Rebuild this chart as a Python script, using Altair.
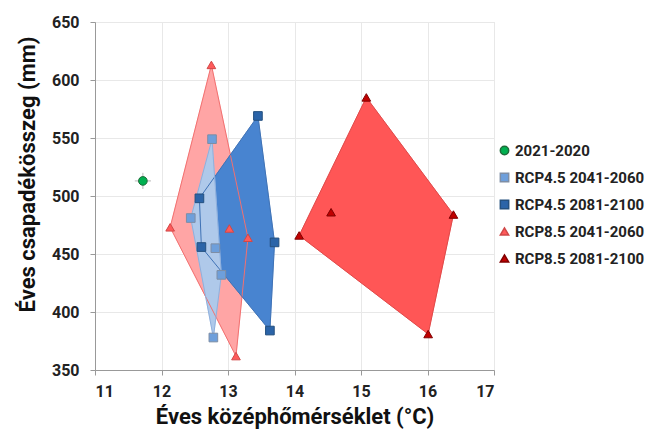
import altair as alt
import pandas as pd

# ---- data ----
series_names = ["2021-2020", "RCP4.5 2041-2060", "RCP4.5 2081-2100",
                "RCP8.5 2041-2060", "RCP8.5 2081-2100"]

base_x = [11.72]
base_y = [513]

r45a_x = [12.76, 12.44, 12.81, 12.90, 12.78]
r45a_y = [549, 481, 455, 432, 378]

r45b_x = [13.45, 12.57, 12.60, 13.70, 13.63]
r45b_y = [569, 498, 456, 460, 384]

r85a_x = [12.75, 12.13, 13.02, 13.30, 13.12]
r85a_y = [613, 473, 472, 464, 362]

r85b_x = [15.08, 14.55, 16.39, 14.07, 16.01]
r85b_y = [585, 486, 484, 466, 381]

# polygon outlines (indices into each series' points, closed)
poly_r85a = [0, 3, 4, 1, 0]
poly_r45b = [0, 3, 4, 2, 1, 0]
poly_r45a = [0, 3, 4, 1, 0]
poly_r85b = [0, 2, 4, 3, 0]

fill_colors = {"RCP8.5 2041-2060": "#FFA5A5", "RCP4.5 2081-2100": "#4884D0",
               "RCP4.5 2041-2060": "#AFC9EA", "RCP8.5 2081-2100": "#FF5656"}
edge_colors = {"RCP8.5 2041-2060": "#F27070", "RCP4.5 2081-2100": "#3F72B5",
               "RCP4.5 2041-2060": "#8FB0DD", "RCP8.5 2081-2100": "#E04848"}
marker_fill = ["#00B050", "#6E9FDB", "#2B64A8", "#FF5A5A", "#C00000"]
marker_shape = ["circle", "square", "square", "triangle-up", "triangle-up"]
marker_stroke = ["#1F6B3A", "#7E8EA5", "#24507F", "#D04848", "#800000"]

# ---- build tables ----
pts = []
for name, xs, ys in [(series_names[0], base_x, base_y),
                     (series_names[1], r45a_x, r45a_y),
                     (series_names[2], r45b_x, r45b_y),
                     (series_names[3], r85a_x, r85a_y),
                     (series_names[4], r85b_x, r85b_y)]:
    for x, y in zip(xs, ys):
        pts.append({"series": name, "t": x, "p": y})
pts = pd.DataFrame(pts)

def poly_df(name, xs, ys, idx):
    return pd.DataFrame({"series": name, "t": [xs[i] for i in idx],
                         "p": [ys[i] for i in idx], "o": list(range(len(idx)))})

polys = [
    ("RCP8.5 2041-2060", poly_df("RCP8.5 2041-2060", r85a_x, r85a_y, poly_r85a)),
    ("RCP4.5 2081-2100", poly_df("RCP4.5 2081-2100", r45b_x, r45b_y, poly_r45b)),
    ("RCP4.5 2041-2060", poly_df("RCP4.5 2041-2060", r45a_x, r45a_y, poly_r45a)),
    ("RCP8.5 2081-2100", poly_df("RCP8.5 2081-2100", r85b_x, r85b_y, poly_r85b)),
]

FONT = "Roboto"
xscale = alt.Scale(domain=[11, 17], nice=False)
yscale = alt.Scale(domain=[350, 650], nice=False)

xenc = alt.X("t:Q", scale=xscale, axis=alt.Axis(
    values=[11, 12, 13, 14, 15, 16, 17], format="d", title="Éves középhőmérséklet (°C)",
    titleFontSize=22, titleFontWeight="bold", titleColor="#111",
    labelFontSize=16, labelFontWeight="bold", labelColor="#222",
    labelPadding=8, titlePadding=7, tickSize=5, tickColor="#999",
    domainColor="#999", gridColor="#E8E8E8", labelFont=FONT, titleFont=FONT))
yenc = alt.Y("p:Q", scale=yscale, axis=alt.Axis(
    values=[350, 400, 450, 500, 550, 600, 650], title="Éves csapadékösszeg (mm)",
    titleFontSize=22, titleFontWeight="bold", titleColor="#111",
    labelFontSize=16, labelFontWeight="bold", labelColor="#222",
    labelPadding=11, titlePadding=12, tickSize=5, tickColor="#999",
    domainColor="#999", gridColor="#E8E8E8", titleY=152,
    labelFont=FONT, titleFont=FONT))

layers = []
for name, df in polys:
    layers.append(alt.Chart(df).mark_line(
        fill=fill_colors[name], stroke=fill_colors[name], strokeWidth=0.5,
        interpolate="linear").encode(
        x=alt.X("t:Q", scale=xscale), y=alt.Y("p:Q", scale=yscale),
        order="o:Q"))
for name, df in polys:
    layers.append(alt.Chart(df).mark_line(
        stroke=edge_colors[name], strokeWidth=1).encode(
        x=alt.X("t:Q", scale=xscale), y=alt.Y("p:Q", scale=yscale),
        order="o:Q"))

# small cross on the baseline point
layers.append(alt.Chart(pts[pts.series == series_names[0]]).mark_point(
    shape="M-1,0L1,0M0,-1L0,1", size=260, filled=False, stroke="#999999", strokeWidth=1).encode(
    x=alt.X("t:Q", scale=xscale), y=alt.Y("p:Q", scale=yscale)))

points = alt.Chart(pts).mark_point(filled=True, opacity=1, size=75, strokeWidth=1).encode(
    x=xenc, y=yenc,
    fill=alt.Fill("series:N", scale=alt.Scale(domain=series_names, range=marker_fill),
                  legend=alt.Legend(title=None, orient="none", legendX=402, legendY=121,
                                    labelFontSize=15, labelFontWeight="bold",
                                    labelColor="#222", labelFont=FONT,
                                    symbolSize=70, rowPadding=11, labelOffset=3,
                                    labelLimit=200)),
    shape=alt.Shape("series:N", scale=alt.Scale(domain=series_names, range=marker_shape)),
    stroke=alt.Stroke("series:N", scale=alt.Scale(domain=series_names, range=marker_stroke),
                      legend=None),
)
layers.append(points)

chart = alt.layer(*layers).properties(
    width=399, height=348,
    autosize=alt.AutoSizeParams(type="none"),
    padding={"left": 87, "top": 14, "right": 156, "bottom": 62},
).configure_view(stroke="#C8C8C8", strokeWidth=1).configure(background="white")

chart.save("out.html", embed_options={"renderer": "svg", "actions": False})
